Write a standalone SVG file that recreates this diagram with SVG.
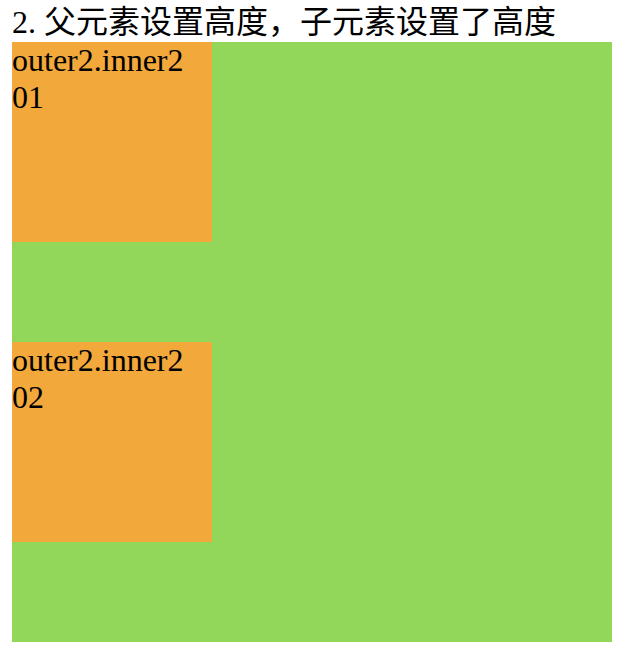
<svg xmlns="http://www.w3.org/2000/svg" width="628" height="654" viewBox="0 0 628 654">
  <style>
    text { font-family: "Liberation Serif", "Noto Sans CJK SC", serif; font-size: 32px; fill: #000; }
    .outer { fill: #93d75a; }
    .inner { fill: #f2a83b; }
  </style>
  <rect width="628" height="654" fill="#ffffff"/>
  <text id="title" x="12" y="33">2. 父元素设置高度，子元素设置了高度</text>
  <g id="outer2">
    <rect class="outer" x="12" y="42" width="600" height="600"/>
  </g>
  <g id="inner201">
    <rect class="inner" x="12" y="42" width="200" height="200"/>
    <text x="12" y="70.5">outer2.inner2</text>
    <text x="12" y="107.5">01</text>
  </g>
  <g id="inner202">
    <rect class="inner" x="12" y="342" width="200" height="200"/>
    <text x="12" y="370.5">outer2.inner2</text>
    <text x="12" y="407.5">02</text>
  </g>
  <g id="connectors"/>
</svg>
